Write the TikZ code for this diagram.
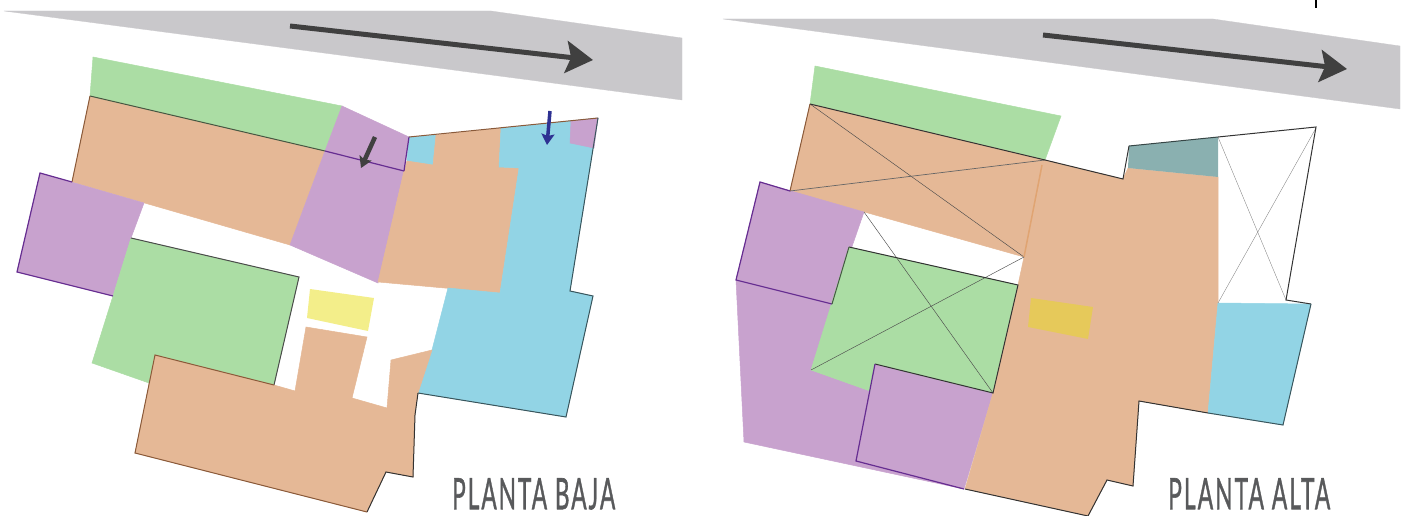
\documentclass[tikz,border=0pt]{standalone}
\usepackage{graphicx}
\usepackage{fontspec}
\newfontfamily\labelfont[FakeBold=1.4,LetterSpace=9]{Lato}
\usetikzlibrary{arrows.meta}
\definecolor{cgreen}{HTML}{ABDDA4}
\definecolor{corange}{HTML}{E5B896}
\definecolor{cpurple}{HTML}{C8A2CE}
\definecolor{cblue}{HTML}{92D4E5}
\definecolor{croad}{HTML}{C9C8CB}
\definecolor{cyellow}{HTML}{F3EE8A}
\definecolor{cgold}{HTML}{E6C95A}
\definecolor{cteal}{HTML}{8AB0B0}
\definecolor{cdark}{HTML}{404040}
\definecolor{cnavy}{HTML}{2E3192}
\definecolor{cdpurple}{HTML}{662D91}
\definecolor{cbrown}{HTML}{8A5A3A}
\definecolor{ctext}{HTML}{58595B}
\definecolor{cseam}{HTML}{E0A472}
\tikzset{
  road/.style={fill=croad,draw=croad,line width=0.3pt},
  greenzone/.style={fill=cgreen,draw=cgreen,line width=0.5pt},
  orangezone/.style={fill=corange,draw=corange,line width=0.5pt},
  purplezone/.style={fill=cpurple,draw=cpurple,line width=0.5pt},
  bluezone/.style={fill=cblue,draw=cblue,line width=0.5pt},
  wall/.style={line width=1pt,draw=black!80},
  pwall/.style={line width=1.2pt,draw=cdpurple},
  bwall/.style={line width=1pt,draw=cbrown},
  xline/.style={line width=0.45pt,draw=black!70},
  faintx/.style={line width=0.35pt,draw=black!50},
  bigarrow/.style={line width=5pt,draw=cdark,-{Stealth[length=27pt,width=32pt,inset=5pt]}},
  smallarrow/.style={line width=4.5pt,-{Stealth[length=11pt,width=13pt,inset=2pt]}},
  plantitle/.style={text=ctext,inner sep=0pt,anchor=north west}
}
\begin{document}
\begin{tikzpicture}[x=1pt,y=-1pt]
\useasboundingbox (0,0) rectangle (1406,516);
% ---------- PLANTA BAJA ----------
\path[road] (4,11)--(491,11)--(682,38)--(682,100)--cycle;
\draw[bigarrow] (290,26)--(593,60);
\path[greenzone] (93,57)--(342,106)--(325,151)--(90,96)--cycle;
\path[orangezone] (90,96)--(325,151)--(290,245)--(72,182)--cycle;
\path[purplezone] (342,106)--(409,137)--(404,171)--(325,151)--cycle;
\path[purplezone] (325,151)--(404,171)--(378,283)--(290,245)--cycle;
\path[purplezone] (40,173)--(144,203)--(131,238)--(113,296)--(17,272)--cycle;
\path[bluezone] (409,137)--(436,135)--(433,165)--(407,161)--cycle;
\path[orangezone] (436,135)--(501,128)--(499,167)--(519,168)--(500,293)--(378,282)--(404,171)--(407,161)--(433,165)--cycle;
\path[bluezone] (501,128)--(598,118)--(570,291)--(593,296)--(566,417)--(418,393)--(432,350)--(448,288)--(500,293)--(519,168)--(499,167)--cycle;
\path[purplezone] (571,121)--(598,118)--(594,148)--(570,143)--cycle;
\path[greenzone] (131,238)--(299,277)--(274,385)--(155,355)--(149,383)--(92,363)--(113,296)--cycle;
\fill[cyellow] (310,289)--(374,298)--(368,331)--(307,318)--cycle;
\path[orangezone] (155,355)--(274,385)--(295,391)--(306,327)--(367,337)--(352,398)--(387,408)--(391,360)--(432,350)--(418,393)--(415,415)--(413,477)--(386,472)--(367,512)--(135,453)--cycle;
% outlines
\draw[bwall] (72,182)--(90,96);
\draw[wall,draw=black!60!cgreen] (90,96)--(325,151);
\draw[pwall] (325,151)--(404,171);
\draw[pwall] (72,182)--(40,173)--(17,272)--(113,296);
\draw[wall,draw=black!70] (131,238)--(299,277)--(274,385);
\draw[pwall] (409,137)--(404,171);
\draw[bwall] (409,137)--(598,118);
\draw[wall,draw=black!60!cblue] (598,118)--(570,291)--(593,296)--(566,417)--(418,393);
\draw[wall] (418,393)--(415,415)--(413,477)--(386,472)--(367,512);
\draw[bwall] (367,512)--(135,453)--(155,355)--(274,385);
\draw[smallarrow,cdark] (375,137)--(361,168);
\draw[smallarrow,line width=3.5pt,cnavy] (550,111)--(547,145);
\node[plantitle] (baja) at (452,478) {\resizebox{163pt}{31pt}{\labelfont PLANTA BAJA}};
% ---------- PLANTA ALTA ----------
\path[road] (723,19)--(1213,19)--(1400,46)--(1400,109)--cycle;
\draw[bigarrow] (1043,35)--(1347,69);
\path[greenzone] (815,66)--(1061,116)--(1045,160)--(810,104)--cycle;
\path[orangezone] (810,104)--(1045,160)--(1024,257)--(790,191)--cycle;
\path[purplezone] (760,182)--(864,212)--(832,304)--(736,280)--cycle;
\path[purplezone] (736,280)--(832,304)--(811,370)--(870,391)--(856,461)--(964,489)--(744,442)--cycle;
\path[purplezone] (875,364)--(993,393)--(964,489)--(856,461)--cycle;
\path[greenzone] (849,247)--(1018,285)--(993,393)--(875,364)--(870,391)--(811,370)--cycle;
\path[orangezone] (1045,160)--(1123,179)--(1128,168)--(1218,177)--(1218,303)--(1208,413)--(1139,401)--(1133,486)--(1107,480)--(1088,516)--(965,489)--(993,393)--(1018,285)--(1024,257)--cycle;
\path[fill=cteal] (1129,146)--(1218,137)--(1218,177)--(1128,168)--cycle;
\path[bluezone] (1218,303)--(1311,304)--(1283,425)--(1208,413)--cycle;
\fill[cgold] (1031,298)--(1093,307)--(1088,339)--(1028,327)--cycle;
% thin crossing lines
\draw[xline] (810,104)--(1024,257);
\draw[xline,line width=0.7pt,draw=black!60] (790,191)--(1045,160);
\draw[xline] (864,212)--(993,393);
\draw[xline] (811,370)--(1024,257);
\draw[faintx] (1218,137)--(1286,300);
\draw[faintx] (1316,128)--(1218,303);
% outlines
\draw[bwall] (790,191)--(810,104);
\draw[wall] (810,104)--(1045,160)--(1123,179)--(1129,146);
\draw[wall,draw=black!60!cteal] (1129,146)--(1218,137);
\draw[wall] (1218,137)--(1316,127)--(1286,300)--(1311,304);
\draw[wall,draw=black!60!cblue] (1311,304)--(1283,425)--(1208,413);
\draw[wall] (1208,413)--(1139,401)--(1133,486)--(1107,480)--(1088,516)--(965,489);
\draw[line width=1.5pt,draw=cseam] (1042,165)--(1024,257);
\draw[pwall] (790,191)--(760,182)--(736,280)--(832,304);
\draw[wall] (849,247)--(1018,285)--(993,393)--(875,364);
\draw[pwall] (875,364)--(856,461)--(964,489);
\draw[wall,draw=black!60!cgreen] (849,247)--(832,304);
\draw[line width=1.8pt,draw=black] (1316,0)--(1316,8);
\node[plantitle] (alta) at (1168,478) {\resizebox{162pt}{31pt}{\labelfont PLANTA ALTA}};
\end{tikzpicture}
\end{document}
